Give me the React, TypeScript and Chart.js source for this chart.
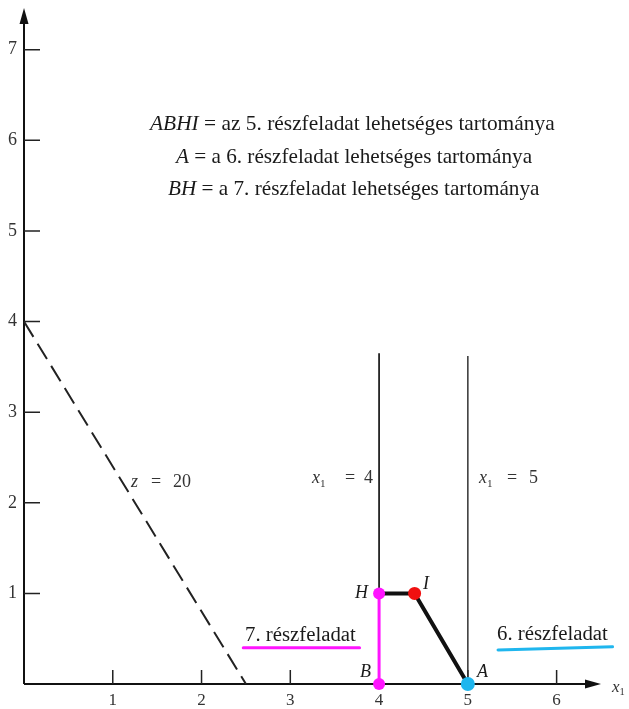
import { useEffect, useRef } from 'react';
import { Chart, registerables } from 'chart.js';
Chart.register(...registerables);

const xTickValues = [1, 2, 3, 4, 5, 6];
const yTickValues = [1, 2, 3, 4, 5, 6, 7];
const objectiveLine = [{ x: 0, y: 4 }, { x: 2.5, y: 0 }]; // z = 20
const constraintX4 = [{ x: 4, y: 0 }, { x: 4, y: 3.65 }];
const constraintX5 = [{ x: 5, y: 0 }, { x: 5, y: 3.62 }];
const regionEdge = [{ x: 4, y: 1 }, { x: 4.4, y: 1 }, { x: 5, y: 0 }];
const segmentBH = [{ x: 4, y: 0 }, { x: 4, y: 1 }];
const pointsBH = [{ x: 4, y: 0 }, { x: 4, y: 1 }];
const pointI = [{ x: 4.4, y: 1 }];
const pointA = [{ x: 5, y: 0 }];
const underline7 = [{ x: 2.47, y: 0.4 }, { x: 3.78, y: 0.4 }];
const underline6 = [{ x: 5.34, y: 0.375 }, { x: 6.63, y: 0.41 }];

const SERIF = '"Liberation Serif", "Times New Roman", serif';

type Seg = { t: string; italic?: boolean; sub?: boolean; x?: number };

function drawSegs(ctx: CanvasRenderingContext2D, segs: Seg[], x: number, y: number, size: number, color: string) {
  let cx = x;
  ctx.fillStyle = color;
  ctx.textBaseline = 'alphabetic';
  ctx.textAlign = 'left';
  for (const s of segs) {
    if (s.x !== undefined) cx = s.x;
    const fs = s.sub ? size * 0.62 : size;
    ctx.font = `${s.italic ? 'italic ' : ''}${fs}px ${SERIF}`;
    ctx.fillText(s.t, cx, s.sub ? y + size * 0.2 : y);
    cx += ctx.measureText(s.t).width;
  }
}

const annotPlugin = {
  id: 'annot',
  beforeDatasetsDraw(chart: any) {
    const { ctx } = chart;
    const xs = chart.scales.x;
    const ys = chart.scales.y;
    const x0 = xs.getPixelForValue(0);
    const y0 = ys.getPixelForValue(0);
    const xEnd = xs.right;
    const yEnd = ys.top;
    ctx.save();
    ctx.strokeStyle = '#111';
    ctx.fillStyle = '#111';
    ctx.lineWidth = 2;
    ctx.beginPath();
    ctx.moveTo(x0, y0);
    ctx.lineTo(xEnd - 6, y0);
    ctx.moveTo(x0, y0);
    ctx.lineTo(x0, yEnd + 6);
    ctx.stroke();
    // arrow heads
    ctx.beginPath();
    ctx.moveTo(xEnd, y0);
    ctx.lineTo(xEnd - 16, y0 - 4.5);
    ctx.lineTo(xEnd - 16, y0 + 4.5);
    ctx.closePath();
    ctx.fill();
    ctx.beginPath();
    ctx.moveTo(x0, yEnd);
    ctx.lineTo(x0 - 4.5, yEnd + 16);
    ctx.lineTo(x0 + 4.5, yEnd + 16);
    ctx.closePath();
    ctx.fill();
    // inner ticks
    ctx.lineWidth = 1.5;
    ctx.strokeStyle = '#222';
    ctx.beginPath();
    for (const v of yTickValues) {
      const py = ys.getPixelForValue(v);
      ctx.moveTo(x0, py);
      ctx.lineTo(x0 + 16, py);
    }
    for (const v of xTickValues) {
      const px = xs.getPixelForValue(v);
      ctx.moveTo(px, y0);
      ctx.lineTo(px, y0 - 14);
    }
    ctx.stroke();
    // underlines
    ctx.lineCap = 'round';
    ctx.lineWidth = 3;
    ctx.strokeStyle = '#ff14ff';
    ctx.beginPath();
    ctx.moveTo(xs.getPixelForValue(underline7[0].x), ys.getPixelForValue(underline7[0].y));
    ctx.lineTo(xs.getPixelForValue(underline7[1].x), ys.getPixelForValue(underline7[1].y));
    ctx.stroke();
    ctx.strokeStyle = '#1fb6ee';
    ctx.beginPath();
    ctx.moveTo(xs.getPixelForValue(underline6[0].x), ys.getPixelForValue(underline6[0].y));
    ctx.lineTo(xs.getPixelForValue(underline6[1].x), ys.getPixelForValue(underline6[1].y));
    ctx.stroke();
    ctx.restore();
  },
  afterDraw(chart: any) {
    const { ctx } = chart;
    ctx.save();
    const dark = '#1a1a1a';
    // description block
    drawSegs(ctx, [{ t: 'ABHI', italic: true }, { t: ' = az 5. részfeladat lehetséges tartománya' }], 150, 130, 21.4, dark);
    drawSegs(ctx, [{ t: 'A', italic: true }, { t: ' = a 6. részfeladat lehetséges tartománya' }], 176, 163, 21.2, dark);
    drawSegs(ctx, [{ t: 'BH', italic: true }, { t: ' = a 7. részfeladat lehetséges tartománya' }], 168, 195, 21.2, dark);
    // line labels
    const g = '#333';
    drawSegs(ctx, [{ t: 'x', italic: true }, { t: '1', sub: true }, { t: '=', x: 345 }, { t: '4', x: 364 }], 312, 483, 18, g);
    drawSegs(ctx, [{ t: 'x', italic: true }, { t: '1', sub: true }, { t: '=', x: 507 }, { t: '5', x: 529 }], 479, 483, 18, g);
    drawSegs(ctx, [{ t: 'z', italic: true }, { t: '=', x: 151 }, { t: '20', x: 173 }], 131, 487, 18, g);
    drawSegs(ctx, [{ t: 'x', italic: true }, { t: '1', sub: true }], 612, 692, 17, g);
    // point labels
    drawSegs(ctx, [{ t: 'H', italic: true }], 355, 598, 18, dark);
    drawSegs(ctx, [{ t: 'I', italic: true }], 423, 589, 18, dark);
    drawSegs(ctx, [{ t: 'B', italic: true }], 360, 677, 18, dark);
    drawSegs(ctx, [{ t: 'A', italic: true }], 477, 677, 18, dark);
    // subproblem labels
    drawSegs(ctx, [{ t: '7. részfeladat' }], 245, 641, 20.8, dark);
    drawSegs(ctx, [{ t: '6. részfeladat' }], 497, 640, 20.8, dark);
    ctx.restore();
  },
};

export default function App() {
  const ref = useRef<HTMLCanvasElement | null>(null);
  useEffect(() => {
    document.body.style.margin = '0';
    const canvas = ref.current;
    if (!canvas) return;
    const lineDs = (data: any[], color: string, width: number, extra: any = {}) => ({
      type: 'scatter' as const,
      data,
      showLine: true,
      borderColor: color,
      backgroundColor: color,
      borderWidth: width,
      pointRadius: 0,
      pointHoverRadius: 0,
      clip: false,
      ...extra,
    });
    const ptDs = (data: any[], color: string, r: number) => ({
      type: 'scatter' as const,
      data,
      showLine: false,
      backgroundColor: color,
      borderColor: color,
      borderWidth: 0,
      pointRadius: r,
      pointHoverRadius: r,
      clip: false,
    });
    const chart = new Chart(canvas, {
      type: 'scatter',
      data: {
        datasets: [
          ptDs(pointA, '#1fb6ee', 7),
          ptDs(pointI, '#f01010', 6.5),
          ptDs(pointsBH, '#ff14ff', 6),
          lineDs(segmentBH, '#ff14ff', 3),
          lineDs(regionEdge, '#111', 4),
          lineDs(constraintX4, '#222', 1.8),
          lineDs(constraintX5, '#333', 1.5),
          lineDs(objectiveLine, '#222', 2, { borderDash: [18, 8] }),
        ] as any,
      },
      options: {
        responsive: false,
        animation: false,
        events: [],
        layout: { padding: { top: 8, right: 28, left: 0, bottom: 0 } },
        plugins: { legend: { display: false }, tooltip: { enabled: false } },
        scales: {
          x: {
            type: 'linear',
            min: 0,
            max: 6.5,
            grid: { display: false, drawTicks: false },
            border: { display: false },
            afterFit: (s: any) => { s.height = 25; s.paddingLeft = 0; s.paddingRight = 0; },
            afterBuildTicks: (s: any) => { s.ticks = xTickValues.map((v) => ({ value: v })); },
            ticks: { padding: 6, color: '#333', font: { family: SERIF, size: 17 } },
          },
          y: {
            type: 'linear',
            min: 0,
            max: 7.46,
            grid: { display: false, drawTicks: false },
            border: { display: false },
            afterFit: (s: any) => { s.width = 24; s.paddingTop = 0; s.paddingBottom = 0; },
            afterBuildTicks: (s: any) => { s.ticks = yTickValues.map((v) => ({ value: v })); },
            ticks: { padding: 7, color: '#333', font: { family: SERIF, size: 18 } },
          },
        },
      },
      plugins: [annotPlugin],
    });
    return () => chart.destroy();
  }, []);
  return (
    <div style={{ width: 629, height: 709, background: '#fff' }}>
      <canvas ref={ref} width={629} height={709} />
    </div>
  );
}
